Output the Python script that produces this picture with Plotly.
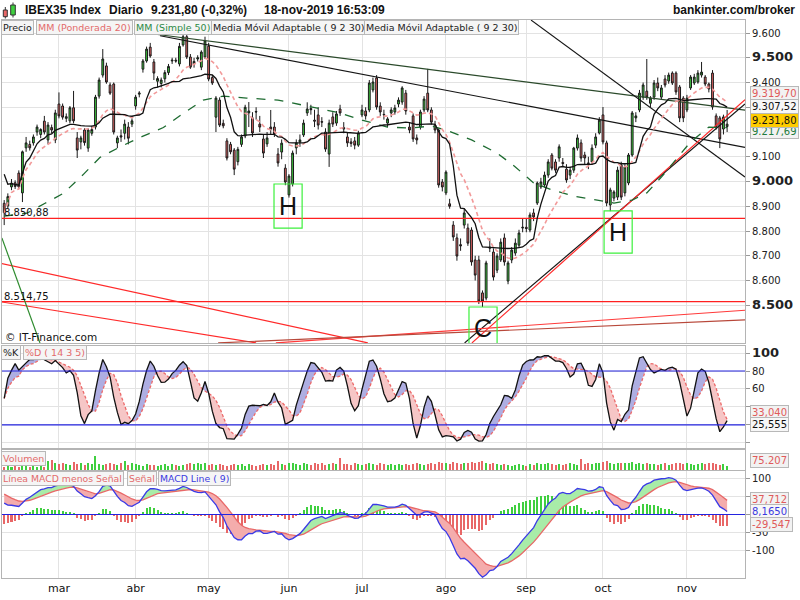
import numpy as np
import pandas as pd
import plotly.graph_objects as go

# ---------------- data ----------------
holidays = ["2019-04-19", "2019-04-22", "2019-05-01"]
dates = [d for d in pd.bdate_range("2019-02-08", "2019-11-18") if d.strftime("%Y-%m-%d") not in holidays]
months_es = ["mar", "abr", "may", "jun", "jul", "ago", "sep", "oct", "nov"]

opens = [8912, 8901, 8978, 8995, 9034, 8954, 9136, 9150, 9156, 9200,
         9190, 9244, 9168, 9218, 9168, 9313, 9305, 9255, 9245, 9298,
         9176, 9160, 9208, 9135, 9195, 9220, 9345, 9430, 9467, 9390,
         9394, 9156, 9185, 9195, 9220, 9232, 9305, 9353, 9454, 9487,
         9543, 9483, 9405, 9396, 9415, 9440, 9487, 9490, 9475, 9552,
         9585, 9503, 9475, 9495, 9462, 9503, 9547, 9420, 9260, 9329,
         9235, 9164, 9150, 9127, 9080, 9150, 9184, 9277, 9257, 9283,
         9232, 9172, 9152, 9220, 9220, 9111, 9119, 9054, 8946, 8990,
         9136, 9160, 9188, 9277, 9295, 9248, 9269, 9242, 9200, 9111,
         9261, 9236, 9293, 9218, 9180, 9160, 9164, 9147, 9269, 9285,
         9289, 9370, 9418, 9305, 9271, 9236, 9277, 9281, 9313, 9321,
         9357, 9220, 9265, 9176, 9220, 9289, 9357, 9289, 9228, 9208,
         8998, 8954, 8910, 8824, 8772, 8745, 8824, 8812, 8804, 8683,
         8683, 8550, 8529, 8735, 8715, 8642, 8683, 8772, 8598, 8683,
         8711, 8743, 8812, 8815, 8804, 8873, 8913, 8978, 8986, 9026,
         9107, 9079, 9095, 9077, 9050, 9026, 9046, 9135, 9156, 9107,
         9075, 9079, 9147, 9196, 9269, 9156, 8905, 8933, 8937, 9067,
         8954, 8994, 9107, 9257, 9289, 9341, 9365, 9316, 9341, 9398,
         9341, 9414, 9406, 9438, 9438, 9382, 9337, 9289, 9378, 9398,
         9402, 9430, 9422, 9394, 9438, 9265, 9257, 9212, 9222]
highs = [8925, 8952, 9010, 9005, 9045, 9125, 9180, 9165, 9190, 9230,
         9215, 9265, 9240, 9230, 9290, 9360, 9315, 9275, 9305, 9366,
         9200, 9185, 9215, 9215, 9225, 9350, 9420, 9535, 9480, 9400,
         9400, 9185, 9210, 9250, 9240, 9255, 9350, 9365, 9495, 9545,
         9560, 9495, 9425, 9420, 9450, 9475, 9500, 9500, 9560, 9600,
         9600, 9515, 9500, 9510, 9530, 9585, 9560, 9430, 9345, 9340,
         9250, 9175, 9160, 9135, 9140, 9190, 9310, 9321, 9280, 9300,
         9265, 9190, 9200, 9289, 9240, 9135, 9170, 9070, 9030, 9125,
         9170, 9190, 9250, 9320, 9310, 9290, 9300, 9260, 9215, 9250,
         9280, 9285, 9310, 9240, 9200, 9175, 9180, 9205, 9310, 9300,
         9410, 9420, 9430, 9320, 9290, 9260, 9300, 9310, 9340, 9385,
         9370, 9240, 9275, 9190, 9290, 9345, 9455, 9300, 9245, 9215,
         9010, 9045, 8930, 8840, 8790, 8770, 8890, 8830, 8815, 8700,
         8700, 8560, 8680, 8770, 8730, 8710, 8770, 8790, 8680, 8735,
         8770, 8805, 8850, 8850, 8875, 8890, 9000, 9015, 9040, 9090,
         9115, 9090, 9150, 9095, 9070, 9060, 9140, 9190, 9170, 9120,
         9100, 9150, 9195, 9260, 9301, 9165, 8975, 8965, 9060, 9080,
         9070, 9115, 9285, 9280, 9370, 9400, 9495, 9345, 9410, 9420,
         9390, 9430, 9440, 9445, 9445, 9390, 9345, 9350, 9430, 9435,
         9450, 9483, 9430, 9400, 9450, 9275, 9265, 9270, 9289]
lows = [8824, 8890, 8965, 8970, 8970, 8917, 9120, 9125, 9145, 9185,
        9175, 9190, 9150, 9195, 9155, 9255, 9250, 9240, 9235, 9235,
        9095, 9130, 9145, 9120, 9185, 9210, 9335, 9420, 9395, 9350,
        9190, 9135, 9160, 9170, 9150, 9220, 9290, 9340, 9440, 9480,
        9500, 9410, 9380, 9380, 9400, 9430, 9475, 9480, 9465, 9545,
        9495, 9455, 9460, 9485, 9450, 9495, 9405, 9390, 9200, 9220,
        9215, 9085, 9110, 9026, 9065, 9140, 9175, 9220, 9180, 9250,
        9200, 9095, 9140, 9190, 9180, 9060, 9090, 8985, 8935, 8980,
        9110, 9140, 9180, 9265, 9270, 9220, 9210, 9220, 9120, 9059,
        9220, 9225, 9265, 9195, 9140, 9140, 9130, 9140, 9260, 9250,
        9280, 9360, 9290, 9265, 9250, 9220, 9260, 9270, 9300, 9310,
        9270, 9195, 9160, 9150, 9210, 9280, 9280, 9230, 9195, 8975,
        8960, 8945, 8890, 8760, 8680, 8720, 8810, 8740, 8660, 8600,
        8505, 8493, 8520, 8715, 8600, 8630, 8675, 8660, 8585, 8670,
        8700, 8735, 8795, 8795, 8795, 8840, 8905, 8970, 8975, 9015,
        9045, 9035, 9080, 9060, 8995, 9010, 9035, 9125, 9080, 9070,
        9050, 9070, 9135, 9190, 9150, 8900, 8880, 8920, 8925, 8925,
        8940, 8985, 9100, 9240, 9280, 9330, 9330, 9300, 9330, 9365,
        9330, 9380, 9395, 9390, 9350, 9240, 9240, 9280, 9370, 9390,
        9395, 9420, 9385, 9360, 9290, 9210, 9135, 9190, 9200]
closes = [8874, 8939, 8994, 8980, 8978, 9120, 9156, 9136, 9180, 9220,
          9210, 9200, 9228, 9208, 9277, 9265, 9260, 9262, 9298, 9245,
          9127, 9176, 9157, 9208, 9210, 9341, 9410, 9495, 9402, 9357,
          9200, 9176, 9180, 9232, 9175, 9245, 9341, 9357, 9487, 9535,
          9507, 9438, 9416, 9410, 9440, 9465, 9490, 9487, 9546, 9585,
          9503, 9462, 9485, 9500, 9523, 9568, 9414, 9398, 9337, 9228,
          9225, 9095, 9120, 9050, 9130, 9180, 9300, 9285, 9196, 9281,
          9220, 9115, 9176, 9212, 9192, 9075, 9155, 8998, 9022, 9115,
          9156, 9168, 9236, 9293, 9290, 9244, 9228, 9240, 9131, 9236,
          9232, 9273, 9277, 9212, 9156, 9154, 9147, 9196, 9289, 9265,
          9398, 9402, 9301, 9281, 9269, 9253, 9289, 9297, 9329, 9378,
          9285, 9208, 9172, 9168, 9281, 9333, 9289, 9240, 9208, 8986,
          8978, 9038, 8900, 8776, 8699, 8740, 8873, 8751, 8675, 8622,
          8517, 8517, 8671, 8731, 8614, 8699, 8755, 8675, 8671, 8723,
          8751, 8792, 8815, 8810, 8865, 8857, 8994, 8998, 9026, 9079,
          9054, 9046, 9140, 9073, 9006, 9046, 9135, 9176, 9095, 9095,
          9073, 9135, 9180, 9248, 9160, 8913, 8966, 8958, 9046, 8937,
          9059, 9107, 9277, 9265, 9357, 9390, 9341, 9337, 9398, 9378,
          9378, 9390, 9430, 9398, 9362, 9257, 9257, 9337, 9422, 9422,
          9438, 9442, 9394, 9374, 9301, 9220, 9172, 9261, 9231.8]
volumes_k = [57, 75, 57, 75, 57, 75, 75, 57, 75, 57, 75, 57,
             188, 207, 150,
             113, 132, 113, 94, 169, 113, 132, 94, 132, 113,
             282,
             113, 94, 113, 132, 113, 94, 132,
             188,
             94, 132, 113, 94, 75, 113, 94, 94, 75, 94, 113, 75, 113, 94, 75, 94, 113,
             132, 113, 150, 113, 132, 94, 113, 94, 113, 94, 75, 94, 113, 94, 113, 75,
             113, 94, 75, 94, 113, 94, 113, 94,
             188,
             113, 94, 150, 132, 113, 94, 132, 113, 94, 132, 113, 150, 94, 113, 132, 113,
             244,
             113, 113, 94, 132, 113, 94, 113, 132, 113, 94, 132, 113, 94, 113, 94, 113,
             94, 113, 94, 113, 132, 113, 94, 113, 132, 113,
             169, 132, 150, 113, 169, 150, 113, 132, 150, 169, 150, 169, 188,
             132, 113, 132, 113, 94, 113, 94, 75, 94, 113, 94, 75, 113, 94,
             132, 113, 113, 132, 113, 94, 113, 94, 113, 132, 113, 94, 226, 113, 132,
             113, 132, 150, 169, 188, 132, 113, 132, 150, 132, 150, 169, 113, 132, 113,
             132, 113, 113, 94, 113, 132, 94, 113, 132, 150, 113, 132, 113, 94, 113, 132,
             113, 150, 132, 113, 94, 113, 75.207]

# Simple 50 moving average (bar index, value)
sma50_idx = [0, 6.2, 11.2, 16.2, 21.5, 26.2, 31.9, 37.7, 43.6, 49.1, 54.5, 60, 66.4, 75, 83,
             92, 98, 105, 111, 117, 121, 128, 135, 140, 145, 150, 156, 162, 167, 172, 176,
             180, 184, 188, 193, 198]
sma50_val = [8860, 8872, 8912, 8952, 9026, 9097, 9141, 9181, 9218, 9276, 9329, 9345, 9337, 9329, 9305,
             9277, 9248, 9220, 9216, 9224, 9208, 9168, 9115, 9059, 8994, 8966, 8941, 8925, 8913, 8925, 8954,
             9018, 9087, 9160, 9220, 9217.69]

# indicator start states read at the left edge of the picture
kama_start = 9030
ema12_start, ema26_start, signal_start = 9000, 8955, 63

# drawn trend lines (bar index, price)
trend_lines = [
    (39.9, 9598, 202.9, 9288, "#2b4a2b"),
    (42.7, 9589, 202.9, 9138, "#151515"),
    (144.3, 9652, 202.9, 9018, "#151515"),
    (126.1, 8348, 202.9, 9313, "#151515"),
    (128.1, 8348, 202.9, 9331, "#ff2a2a"),
    (-1.15, 8670, 99.6, 8348, "#ff2a2a"),
    (-1.15, 8514.5, 69, 8348, "#ff2a2a"),
    (-0.63, 8772, 9.8, 8348, "#2e8b2e"),
    (74.4, 8348, 202.9, 8480, "#ff3a3a"),
    (58.6, 8348, 202.9, 8441, "#b8483a"),
]
support_levels = [8850.88, 8514.75]
pattern_marks = [("H", 77.7, 8901, 73.9, 81.6, 8990, 8812),
                 ("H", 168.1, 8796, 164.3, 172.0, 8881, 8711),
                 ("C", 131.1, 8408, 127.3, 135.0, 8493, 8323)]

# ---------------- indicators ----------------
n = len(closes)
idx = np.arange(n)
c = np.array(closes, float)
h = np.array(highs, float)
l = np.array(lows, float)
o = np.array(opens, float)

wma20 = []
for i in range(n):
    w = np.arange(1, min(20, i + 1) + 1)
    seg = c[i + 1 - len(w):i + 1]
    wma20.append(float((seg * w).sum() / w.sum()))

fsc, ssc = 2 / 3, 2 / 31
kama = []
k = kama_start
for i in range(n):
    j = max(0, i - 9)
    change = abs(c[i] - c[j])
    vol = np.abs(np.diff(c[j:i + 1])).sum()
    er = change / vol if vol > 0 else 0
    sc = (er * (fsc - ssc) + ssc) ** 2
    k = k + sc * (c[i] - k)
    kama.append(k)

e12, e26, sg = ema12_start, ema26_start, signal_start
macd, signal = [], []
for i in range(n):
    e12 += 2 / 13 * (c[i] - e12)
    e26 += 2 / 27 * (c[i] - e26)
    m = e12 - e26
    sg += 0.2 * (m - sg)
    macd.append(m)
    signal.append(sg)
macd = np.array(macd)
signal = np.array(signal)
hist = macd - signal

hh = pd.Series(h).rolling(14, min_periods=1).max().values
ll = pd.Series(l).rolling(14, min_periods=1).min().values
num = pd.Series(c - ll).rolling(3, min_periods=1).sum().values
den = pd.Series(hh - ll).rolling(3, min_periods=1).sum().values
stoch_k = 100 * num / np.where(den == 0, 1, den)
stoch_d = pd.Series(stoch_k).rolling(5, min_periods=1).mean().values

month_idx = []
for mth in [3, 4, 5, 6, 7, 8, 9, 10, 11]:
    month_idx.append(next(i for i, d in enumerate(dates) if d.month == mth))


def band(x, a, b):
    pts = [(x[0], a[0], b[0])]
    for q in range(len(x) - 1):
        d0 = a[q] - b[q]
        d1 = a[q + 1] - b[q + 1]
        if d0 * d1 < 0:
            t = d0 / (d0 - d1)
            xc = x[q] + t * (x[q + 1] - x[q])
            yc = a[q] + t * (a[q + 1] - a[q])
            pts.append((xc, yc, yc))
        pts.append((x[q + 1], a[q + 1], b[q + 1]))
    out = {True: ([], []), False: ([], [])}

    def flush(run, s):
        xs = [r[0] for r in run] + [r[0] for r in reversed(run)] + [None]
        ys = [r[1] for r in run] + [r[2] for r in reversed(run)] + [None]
        out[s][0].extend(xs)
        out[s][1].extend(ys)

    run = [pts[0]]
    cur = None
    for p, q in zip(pts[:-1], pts[1:]):
        s = (p[1] + q[1]) - (p[2] + q[2]) >= 0
        if cur is None or s == cur:
            run.append(q)
            cur = s
        else:
            flush(run, cur)
            run = [p, q]
            cur = s
    flush(run, cur)
    return out


fig = go.Figure()

# ---- main panel ----
for lv in support_levels:
    fig.add_trace(go.Scatter(x=[-0.6, 202.9], y=[lv, lv], mode="lines",
                             line=dict(color="#ff2020", width=1.2), xaxis="x", yaxis="y",
                             hoverinfo="skip", showlegend=False))
for (i0, p0, i1, p1, col) in trend_lines:
    fig.add_trace(go.Scatter(x=[i0, i1], y=[p0, p1], mode="lines",
                             line=dict(color=col, width=1.2), xaxis="x", yaxis="y",
                             hoverinfo="skip", showlegend=False))

fig.add_trace(go.Candlestick(x=idx, open=opens, high=highs, low=lows, close=closes,
                             increasing=dict(fillcolor="#3fd03f", line=dict(color="#1a1a1a", width=1)),
                             decreasing=dict(fillcolor="#e86767", line=dict(color="#1a1a1a", width=1)),
                             whiskerwidth=0, xaxis="x", yaxis="y", hoverinfo="skip", showlegend=False))

fig.add_trace(go.Scatter(x=sma50_idx, y=sma50_val, mode="lines",
                         line=dict(color="#1d6b30", width=1.3, dash="9px,9px"),
                         xaxis="x", yaxis="y", hoverinfo="skip", showlegend=False))
fig.add_trace(go.Scatter(x=idx, y=wma20, mode="lines",
                         line=dict(color="#f29a9a", width=1.6, dash="4px,3px"),
                         xaxis="x", yaxis="y", hoverinfo="skip", showlegend=False))
fig.add_trace(go.Scatter(x=idx, y=kama, mode="lines",
                         line=dict(color="#111111", width=1.3),
                         xaxis="x", yaxis="y", hoverinfo="skip", showlegend=False))

# ---- stochastic ----
bd = band(list(idx), list(stoch_k), list(stoch_d))
fig.add_trace(go.Scatter(x=bd[True][0], y=bd[True][1], fill="toself", mode="none",
                         fillcolor="#aeaee2", xaxis="x2", yaxis="y2", hoverinfo="skip", showlegend=False))
fig.add_trace(go.Scatter(x=bd[False][0], y=bd[False][1], fill="toself", mode="none",
                         fillcolor="#f6c6c6", xaxis="x2", yaxis="y2", hoverinfo="skip", showlegend=False))
fig.add_trace(go.Scatter(x=idx, y=stoch_d, mode="lines",
                         line=dict(color="#ec6a6a", width=1.3, dash="3px,2px"),
                         xaxis="x2", yaxis="y2", hoverinfo="skip", showlegend=False))
fig.add_trace(go.Scatter(x=idx, y=stoch_k, mode="lines", line=dict(color="#111111", width=1.3),
                         xaxis="x2", yaxis="y2", hoverinfo="skip", showlegend=False))

# ---- volume ----
vcols = ["#3fcf3f" if cc >= oo else "#e86767" for cc, oo in zip(closes, opens)]
fig.add_trace(go.Bar(x=idx, y=volumes_k, marker=dict(color=vcols, line=dict(width=0)), width=0.55,
                     xaxis="x3", yaxis="y3", hoverinfo="skip", showlegend=False))

# ---- MACD ----
bm = band(list(idx), list(macd), list(signal))
fig.add_trace(go.Bar(x=idx, y=hist, width=0.55,
                     marker=dict(color=["#3fcf3f" if v >= 0 else "#e86767" for v in hist], line=dict(width=0)),
                     xaxis="x4", yaxis="y4", hoverinfo="skip", showlegend=False))
fig.add_trace(go.Scatter(x=bm[True][0], y=bm[True][1], fill="toself", mode="none",
                         fillcolor="#a8eca8", xaxis="x4", yaxis="y4", hoverinfo="skip", showlegend=False))
fig.add_trace(go.Scatter(x=bm[False][0], y=bm[False][1], fill="toself", mode="none",
                         fillcolor="#f4acac", xaxis="x4", yaxis="y4", hoverinfo="skip", showlegend=False))
fig.add_trace(go.Scatter(x=idx, y=signal, mode="lines", line=dict(color="#e86868", width=1.3),
                         xaxis="x4", yaxis="y4", hoverinfo="skip", showlegend=False))
fig.add_trace(go.Scatter(x=idx, y=macd, mode="lines", line=dict(color="#3a3ae6", width=1.3),
                         xaxis="x4", yaxis="y4", hoverinfo="skip", showlegend=False))

# ---------------- layout ----------------
GRID = "#e3e3e3"
FRAME = "#b4b4b4"
xr = [-0.6, 202.9]
common_x = dict(range=xr, tickvals=month_idx, ticktext=months_es, showgrid=True, gridcolor=GRID,
                zeroline=False, showline=True, linecolor=FRAME, mirror=True, ticks="", fixedrange=True)


def big(t):
    return "<span style='font-size:13px'><b>" + t + "</b></span>"


main_ticks = list(range(8500, 9700, 100))
main_text = [big("8.500"), "8.600", "8.700", "8.800", "8.900", big("9.000"), "9.100", "", "",
             "9.400", big("9.500"), "9.600"]

yfont = dict(family="DejaVu Sans", size=10, color="#222")
common_y = dict(side="right", showgrid=True, gridcolor=GRID, zeroline=False, showline=True,
                linecolor=FRAME, mirror=True, ticks="outside", ticklen=4, tickcolor="#999",
                tickfont=yfont, fixedrange=True)

fig.update_layout(
    width=800, height=600,
    margin=dict(l=2, r=55, t=0, b=0),
    paper_bgcolor="white", plot_bgcolor="white",
    font=dict(family="DejaVu Sans", size=10, color="#222"),
    showlegend=False, bargap=0,
    xaxis=dict(**common_x, anchor="y", showticklabels=False, rangeslider=dict(visible=False)),
    xaxis2=dict(**common_x, anchor="y2", showticklabels=False),
    xaxis3=dict(**common_x, anchor="y3", showticklabels=False),
    xaxis4=dict(**common_x, anchor="y4", showticklabels=True,
                tickfont=dict(family="DejaVu Sans", size=11, color="#111")),
    yaxis=dict(**common_y, anchor="x", domain=[1 - 343 / 600, 1 - 20 / 600], range=[8347.6, 9652.5],
               tickvals=main_ticks, ticktext=main_text),
    yaxis2=dict(**common_y, anchor="x2", domain=[1 - 448 / 600, 1 - 346 / 600], range=[-5.6, 107.8],
                tickvals=[0, 20, 40, 60, 80, 100], ticktext=["", "", "", "60", "80", big("100")]),
    yaxis3=dict(**common_y, anchor="x3", domain=[1 - 470 / 600, 1 - 450 / 600], range=[0, 404],
                tickvals=[], showticklabels=False),
    yaxis4=dict(**common_y, anchor="x4", domain=[1 - 578 / 600, 1 - 471 / 600], range=[-176.4, 120.8],
                tickvals=[-100, -50, 0, 50, 100], ticktext=["-100", "-50", "", "", "100"]),
)

shapes = []
for yv in [80, 20]:
    shapes.append(dict(type="line", xref="x2 domain", x0=0, x1=1, yref="y2", y0=yv, y1=yv,
                       line=dict(color="#2424e0", width=1.2), layer="above"))
shapes.append(dict(type="line", xref="x4 domain", x0=0, x1=1, yref="y4", y0=0, y1=0,
                   line=dict(color="#2424e0", width=1.2), layer="above"))
for (t, ci, cp, bx0, bx1, by0, by1) in pattern_marks:
    shapes.append(dict(type="rect", xref="x", yref="y", x0=bx0, x1=bx1, y0=by1, y1=by0,
                       line=dict(color="#3cf03c", width=1.2), layer="above"))


def px(x):
    return (x - 2) / 743


def py(y):
    return 1 - y / 600


# header icon
shapes += [
    dict(type="line", xref="paper", yref="paper", x0=px(5.3), x1=px(5.3), y0=py(7), y1=py(18.5),
         line=dict(color="#333", width=1)),
    dict(type="rect", xref="paper", yref="paper", x0=px(3.3), x1=px(7.3), y0=py(10), y1=py(16.7),
         fillcolor="#e86767", line=dict(color="#333", width=1)),
    dict(type="line", xref="paper", yref="paper", x0=px(13), x1=px(13), y0=py(2.5), y1=py(17.5),
         line=dict(color="#333", width=1)),
    dict(type="rect", xref="paper", yref="paper", x0=px(10.7), x1=px(15.3), y0=py(5), y1=py(15),
         fillcolor="#3fd03f", line=dict(color="#333", width=1)),
]
fig.update_layout(shapes=shapes)

ann = []


def txt(text, x, y, color="#111", size=10, anchor="left", family="DejaVu Sans", **kw):
    d = dict(text=text, x=px(x), y=py(y), xref="paper", yref="paper", xanchor=anchor, yanchor="middle",
             showarrow=False, font=dict(family=family, size=size, color=color))
    d.update(kw)
    ann.append(d)


def box(text, x, y, color, bg="#f5f5f5", size=9.5, border="#b8b8b8"):
    txt(text, x, y, color=color, size=size, bgcolor=bg, bordercolor=border, borderwidth=1, borderpad=1)


HF = "Liberation Sans"
txt("<b>IBEX35 Index</b>", 23, 10, size=12, family=HF)
txt("<b>Diario</b>", 107, 10, size=12, family=HF)
txt("<b>9.231,80 (-0,32%)</b>", 149, 10, size=12, family=HF)
txt("<b>18-nov-2019 16:53:09</b>", 262, 10, size=12, family=HF)
txt("<b>bankinter.com/broker</b>", 797, 10, size=12, family=HF, anchor="right")

box("Precio", 1, 27, "#222")
box("MM (Ponderada 20)", 36, 27, "#e36b6b")
box("MM (Simple 50)", 134, 27, "#2c8a46")
box("Media Móvil Adaptable ( 9 2 30)", 211, 27, "#222")
box("Media Móvil Adaptable ( 9 2 30)", 364, 27, "#222")

box("%K", 1, 352, "#222")
box("%D ( 14 3 5)", 23, 352, "#e36b6b")
box("Volumen", 1, 458, "#e36b6b")
box("Línea MACD menos Señal", 1, 478, "#e36b6b", size=9.3)
box("Señal", 127, 478, "#e36b6b", size=9.3)
box("MACD Line ( 9)", 158, 478, "#3a3ae0", size=9.3)

txt("8.850,88", 2, 212.5, size=10)
txt("8.514,75", 2, 296, size=10)
txt("© IT-Finance.com", 3, 337, size=10.5)

for (t, ci, cp, bx0, bx1, by0, by1) in pattern_marks:
    ann.append(dict(text=t, x=ci, y=cp, xref="x", yref="y", showarrow=False,
                    font=dict(family="Liberation Sans", size=25, color="#111")))

# value boxes on the right axis
VB = 750
box("9.319,70", VB, 93.5, "#e05a5a", bg="#f2f2f2", size=10)
box("9.307,52", VB, 106.5, "#111", bg="#f7f7f7", size=10)
box("9.217,69", VB, 132, "#1e7b3c", bg="#f2f2f2", size=10)
box("9.231,80", VB, 120.5, "#111", bg="#ffcc00", size=10)
box("33,040", VB, 412, "#e05a5a", bg="#f2f2f2", size=10)
box("25,555", VB, 424, "#111", bg="#f7f7f7", size=10)
box("75.207", VB, 460.5, "#e05a5a", bg="#f2f2f2", size=10)
box("37,712", VB, 499, "#e05a5a", bg="#f2f2f2", size=10)
box("8,1650", VB, 511, "#3a3ae0", bg="#f7f7f7", size=10)
box("-29,547", VB, 524.5, "#e05a5a", bg="#f2f2f2", size=10)

fig.update_layout(annotations=ann)
fig.write_html("out.html", config={"displayModeBar": False})
